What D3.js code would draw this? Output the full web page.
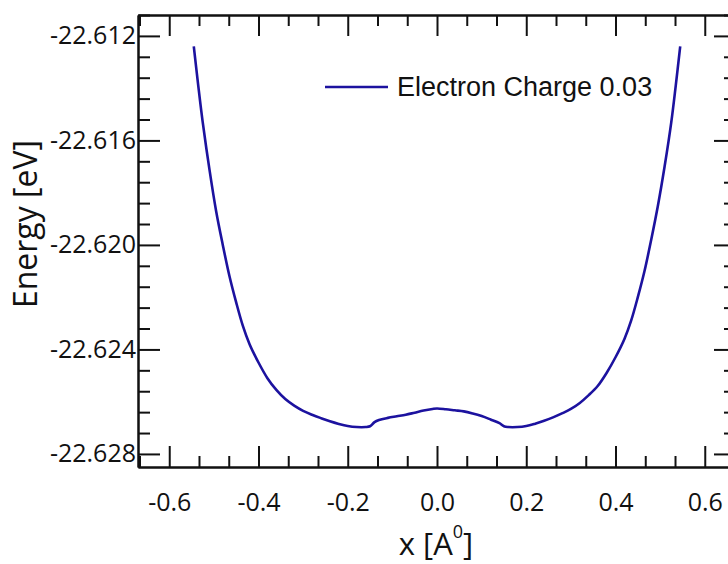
<!DOCTYPE html>
<html>
<head>
<meta charset="utf-8">
<script src="https://cdn.jsdelivr.net/npm/d3@7"></script>
<style>
    body { margin: 0; background: #fff; }
    svg { display: block; }
    .axis path, .axis line { stroke: #111; stroke-width: 2; }
    .axis text { font-family: "Open Sans", sans-serif; font-size: 25px; fill: #111; }
    .title { font-family: "Open Sans", sans-serif; fill: #111; }
</style>
</head>
<body>
<div id="chart"></div>
<script>
// values
const xValues = [-0.545, -0.535, -0.525, -0.51, -0.495, -0.48, -0.465, -0.45, -0.435, -0.42,
    -0.40, -0.38, -0.36, -0.34, -0.32, -0.30, -0.28, -0.26, -0.24, -0.22,
    -0.20, -0.18, -0.16, -0.15, -0.14, -0.13, -0.11, -0.09, -0.07, -0.05,
    -0.03, -0.01, 0, 0.02, 0.04, 0.06, 0.08, 0.10, 0.12, 0.14,
    0.15, 0.16, 0.18, 0.20, 0.22, 0.24, 0.26, 0.28, 0.30, 0.32,
    0.34, 0.36, 0.38, 0.40, 0.42, 0.435, 0.45, 0.465, 0.48, 0.495,
    0.51, 0.525, 0.535, 0.545];
const energies = [-22.6124, -22.6139, -22.6153, -22.6171, -22.6187, -22.6200, -22.6212, -22.6222, -22.6231, -22.6238,
    -22.6245, -22.6251, -22.62555, -22.6259, -22.62615, -22.62635, -22.6265, -22.62663, -22.62675, -22.62685,
    -22.62693, -22.62697, -22.62697, -22.62694, -22.62678, -22.6267, -22.62662, -22.62656, -22.6265, -22.62642,
    -22.62634, -22.62628, -22.62626, -22.62629, -22.62633, -22.62637, -22.62645, -22.62655, -22.62668, -22.62682,
    -22.62694, -22.62697, -22.62697, -22.62693, -22.62684, -22.62673, -22.6266, -22.62645, -22.62628, -22.62605,
    -22.62575, -22.6254, -22.6249, -22.6243, -22.6236, -22.6229, -22.6220, -22.6210, -22.6198, -22.6185,
    -22.6170, -22.6153, -22.6139, -22.6124];
const seriesName = 'Electron Charge 0.03';

const xTicks = [-0.6, -0.4, -0.2, 0.0, 0.2, 0.4, 0.6];
const yTicks = [-22.612, -22.616, -22.620, -22.624, -22.628];

const width = 728, height = 564;
const plot = {left: 138, right: 736, top: 15, bottom: 467};
const lineColor = '#1c129f';

const svg = d3.select('#chart').append('svg')
    .attr('width', width)
    .attr('height', height);

svg.append('rect').attr('width', width).attr('height', height).attr('fill', '#fff');

const x = d3.scaleLinear().domain([-0.67, 0.67]).range([plot.left, plot.right]);
const y = d3.scaleLinear().domain([-22.6285, -22.6112]).range([plot.bottom, plot.top]);

// minor ticks: 3 per x interval, 5 per y interval
const xMinor = d3.range(-10, 11).map(i => i * 0.2 / 3)
    .filter(v => !xTicks.some(t => Math.abs(t - v) < 1e-6));
const yMinor = d3.range(0, 21).map(i => -22.6112 - i * 0.0008)
    .filter(v => v >= -22.6285 && !yTicks.some(t => Math.abs(t - v) < 1e-7));

// plain hyphen instead of d3's unicode minus
const fmtX = v => d3.format('.1f')(v).replace('\u2212', '-');
const fmtY = v => d3.format('.3f')(v).replace('\u2212', '-');

// bottom
svg.append('g').attr('class', 'axis').attr('transform', `translate(0,${plot.bottom})`)
    .call(d3.axisBottom(x).tickValues(xTicks).tickSizeInner(-21).tickSizeOuter(0).tickPadding(26).tickFormat(fmtX));
svg.append('g').attr('class', 'axis').attr('transform', `translate(0,${plot.bottom})`)
    .call(d3.axisBottom(x).tickValues(xMinor).tickSizeInner(-11).tickSizeOuter(0).tickFormat(''));
// top
svg.append('g').attr('class', 'axis').attr('transform', `translate(0,${plot.top})`)
    .call(d3.axisTop(x).tickValues(xTicks).tickSizeInner(-21).tickSizeOuter(0).tickFormat(''));
svg.append('g').attr('class', 'axis').attr('transform', `translate(0,${plot.top})`)
    .call(d3.axisTop(x).tickValues(xMinor).tickSizeInner(-11).tickSizeOuter(0).tickFormat(''));
// left
svg.append('g').attr('class', 'axis').attr('transform', `translate(${plot.left},0)`)
    .call(d3.axisLeft(y).tickValues(yTicks).tickSizeInner(-22).tickSizeOuter(0).tickPadding(2).tickFormat(fmtY));
svg.append('g').attr('class', 'axis').attr('transform', `translate(${plot.left},0)`)
    .call(d3.axisLeft(y).tickValues(yMinor).tickSizeInner(-12).tickSizeOuter(0).tickFormat(''));
// right
svg.append('g').attr('class', 'axis').attr('transform', `translate(${plot.right},0)`)
    .call(d3.axisRight(y).tickValues(yTicks).tickSizeInner(-22).tickSizeOuter(0).tickFormat(''));
svg.append('g').attr('class', 'axis').attr('transform', `translate(${plot.right},0)`)
    .call(d3.axisRight(y).tickValues(yMinor).tickSizeInner(-12).tickSizeOuter(0).tickFormat(''));

// curve
const points = xValues.map((v, i) => [v, energies[i]]);
const line = d3.line()
    .x(d => x(d[0]))
    .y(d => y(d[1]))
    .curve(d3.curveCatmullRom.alpha(0.5));

svg.append('path')
    .datum(points)
    .attr('d', line)
    .attr('fill', 'none')
    .attr('stroke', lineColor)
    .attr('stroke-width', 2.6);

// legend
const legend = svg.append('g').attr('transform', 'translate(325,87)');
legend.append('line').attr('x1', 0).attr('x2', 63).attr('y1', 0).attr('y2', 0)
    .attr('stroke', lineColor).attr('stroke-width', 2.6);
legend.append('text')
    .attr('x', 72).attr('y', 9)
    .attr('font-family', '"Liberation Sans", Arial, sans-serif')
    .attr('font-size', 27)
    .attr('fill', '#111')
    .text(seriesName);

// axis titles
svg.append('text').attr('class', 'title')
    .attr('transform', 'translate(37,224) rotate(-90)')
    .attr('text-anchor', 'middle')
    .attr('font-size', 32)
    .text('Energy [eV]');

const xt = svg.append('text').attr('class', 'title')
    .attr('x', 436).attr('y', 555)
    .attr('text-anchor', 'middle')
    .attr('font-size', 31);
xt.append('tspan').text('x [A');
xt.append('tspan').attr('dy', -17).attr('font-size', 18).text('0');
xt.append('tspan').attr('dy', 17).text(']');
</script>
</body>
</html>
